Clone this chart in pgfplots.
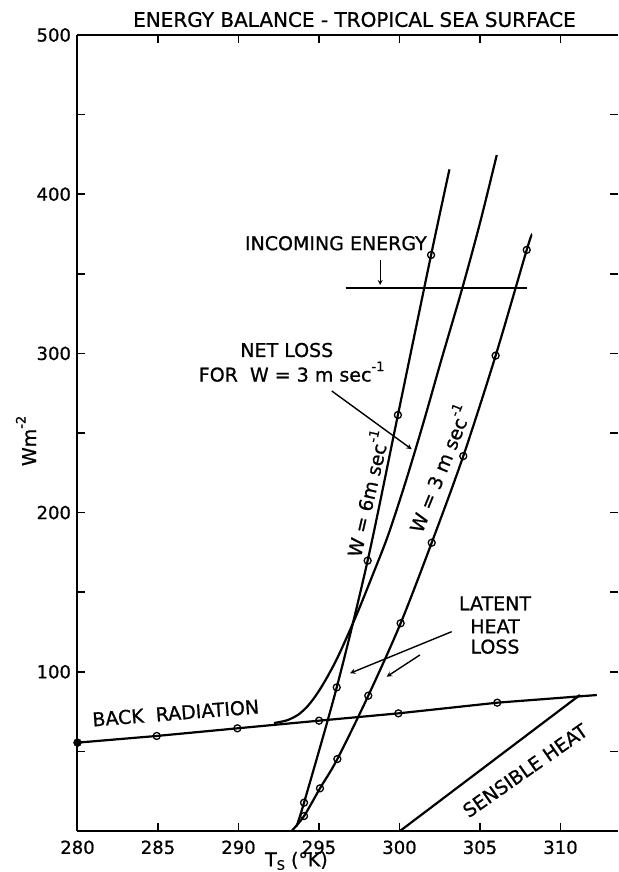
\documentclass[border=0pt]{standalone}
\usepackage{pgfplots}
\pgfplotsset{compat=1.18}
\usepackage{fontspec}
\setmainfont{DejaVu Sans}[FakeBold=0.8]
\newcommand\supx[1]{\raisebox{0.55em}{\fontsize{13}{13}\selectfont #1}}
\newcommand\subx[1]{\raisebox{-0.18em}{\fontsize{13}{13}\selectfont #1}}
\begin{document}
\fontsize{19}{22}\selectfont
\begin{tikzpicture}
\begin{axis}[
  scale only axis,
  width=540.5pt, height=796pt,
  xmin=280, xmax=313.57, ymin=0, ymax=500,
  xtick={280,285,...,310},
  ytick={100,200,...,500},
  minor ytick={50,150,...,450},
  tick align=inside,
  tick pos=both,
  xticklabel pos=lower, yticklabel pos=left,
  major tick length=8pt, minor tick length=8pt,
  major tick style={line width=1.6pt, black},
  minor tick style={line width=1.6pt, black},
  /pgf/number format/assume math mode=true,
  /pgf/number format/set thousands separator={},
  ticklabel style={font=\fontsize{18}{21}\selectfont},
  xticklabel style={yshift=-3pt},
  separate axis lines,
  x axis line style={line width=2pt},
  y axis line style={draw=none},
  clip=false,
]
\coordinate (bl) at (rel axis cs:0,0);
\coordinate (tr) at (rel axis cs:1,1);
\draw[line width=2pt] (rel axis cs:0,0) -- (rel axis cs:0,1);

% Back radiation
\addplot[black, line width=2.2pt] coordinates {
(280,55.5) (284.92,59.7) (289.93,64.5) (295.0,69.3) (299.93,73.9) (306.07,80.6) (312.25,85.4)};
\addplot[black, only marks, mark=o, mark size=3.5pt, mark options={line width=1.3pt}] coordinates {
(284.92,59.7) (289.93,64.5) (295.0,69.3) (299.93,73.9) (306.07,80.6)};
\addplot[black, only marks, mark=*, mark size=4pt] coordinates {(280,55.5)};

% Sensible heat
\addplot[black, line width=2.2pt] coordinates {(300.03,0) (311.2,85.4)};

% Incoming energy
\addplot[black, line width=2.2pt] coordinates {(296.65,341) (307.9,341)};

% W = 6 m/s
\addplot[black, line width=2.2pt, smooth] coordinates {
(293.6,3) (294.07,17.8) (296.1,90.2) (298.02,169.8) (299.9,261.3) (301.96,361.8) (303.1,415.6)};
\addplot[black, only marks, mark=o, mark size=3.5pt, mark options={line width=1.3pt}] coordinates {
(294.07,17.8) (296.1,90.2) (298.02,169.8) (299.9,261.3) (301.96,361.8)};

% W = 3 m/s
\addplot[black, line width=2.2pt, smooth] coordinates {
(293.3,0) (294.07,9.4) (295.06,26.8) (296.14,45.2) (298.06,85) (300.07,130.5) (302.0,181.1) (303.96,235.5) (305.97,298.6) (307.9,365) (308.2,374)};
\addplot[black, only marks, mark=o, mark size=3.5pt, mark options={line width=1.3pt}] coordinates {
(294.07,9.4) (295.06,26.8) (296.14,45.2) (298.06,85) (300.07,130.5) (302.0,181.1) (303.96,235.5) (305.97,298.6) (307.9,365)};

% Net loss for W = 3
\addplot[black, line width=2.2pt, smooth] coordinates {
(292.2,67.8) (293.0,69.5) (293.7,73) (294.3,78.5) (294.9,86.5) (295.5,96.5) (296.2,110) (297.3,135) (298.3,160) (299.3,186) (300.4,220) (301.5,257) (302.6,296) (303.9,341) (305.0,382) (306.04,424.6)};

% Text
\node[font=\fontsize{20}{22}\selectfont] at (axis cs:297.2,509.7) {ENERGY BALANCE - TROPICAL SEA SURFACE};
\node[anchor=east] at (axis cs:302.1,369.2) {INCOMING ENERGY};
\draw[-stealth, line width=1.2pt] (axis cs:298.8,358.7) -- (axis cs:298.8,343);
\node at (axis cs:293.0,302.1) {NET LOSS};
\node at (axis cs:293.3,288.5) {FOR\ \ W = 3 m sec\supx{-1}};
\draw[-stealth, line width=1.4pt] (axis cs:295.79,276.4) -- (axis cs:300.76,239.8);
\node[rotate=77] at (axis cs:297.9,212.1) {W = 6m sec\supx{-1}};
\node[rotate=68] at (axis cs:302.4,228) {W = 3 m sec\supx{-1}};
\node at (axis cs:305.93,143) {LATENT};
\node at (axis cs:305.93,128.6) {HEAT};
\node at (axis cs:305.93,115.8) {LOSS};
\draw[-stealth, line width=1.4pt] (axis cs:303.24,125.2) -- (axis cs:296.93,99.1);
\draw[-stealth, line width=1.4pt] (axis cs:301.27,110.6) -- (axis cs:299.2,96.9);
\node[rotate=4.5] at (axis cs:286.1,74.1) {BACK\ \ RADIATION};
\node[rotate=35] at (axis cs:307.8,38.0) {SENSIBLE HEAT};
\node[inner sep=1pt] at (axis cs:293.6,-18.8) {T\subx{S} (°K)};
\node[rotate=90] at (axis cs:276.8,245) {Wm\supx{-2}};
\end{axis}
\pgfresetboundingbox
\path[use as bounding box] ([shift={(-77.5pt,-41pt)}]bl) rectangle ([shift={(0pt,35pt)}]tr);
\end{tikzpicture}
\end{document}
